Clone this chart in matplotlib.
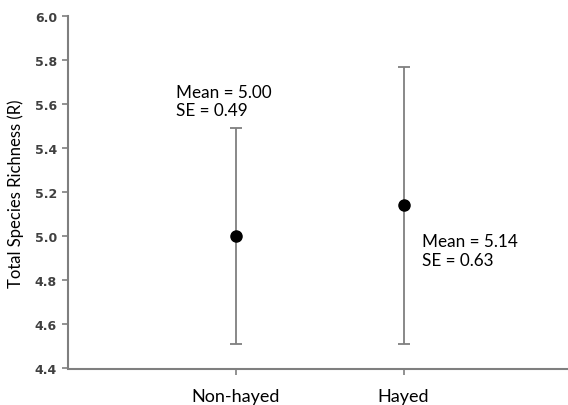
import matplotlib
matplotlib.use("Agg")
import matplotlib.pyplot as plt

groups = ["Non-hayed", "Hayed"]
means = [5.00, 5.14]
se = [0.49, 0.63]
notes = ["Mean = 5.00\nSE = 0.49", "Mean = 5.14\nSE = 0.63"]
yticks = [4.4, 4.6, 4.8, 5.0, 5.2, 5.4, 5.6, 5.8, 6.0]

gray = "#7f7f7f"
tick_col = "#404040"

fig = plt.figure(figsize=(5.68, 4.06), dpi=100)
ax = fig.add_axes([68 / 568, 1 - 369.5 / 406, 1 - 68 / 568, (369.5 - 17) / 406])

x = [1, 2]
ax.errorbar(x, means, yerr=se, fmt="o", color="black", ms=8,
            ecolor=gray, elinewidth=1.3, capsize=4.2, capthick=1.3, zorder=3)

# annotations
ax.text(0.644, 5.615, notes[0], fontsize=12.3, family="Lato", va="center",
        ha="left", linespacing=1.18)
ax.text(2.11, 4.935, notes[1], fontsize=12.3, family="Lato", va="center",
        ha="left", linespacing=1.18)

ax.set_xlim(0, 2.98)
ax.set_ylim(4.4, 6.0)
ax.set_yticks(yticks)
ax.set_yticklabels([f"{v:.1f}" for v in yticks], fontsize=9,
                   family="DejaVu Sans", fontweight="bold", color=tick_col)
ax.set_xticks(x)
ax.set_xticklabels(groups, fontsize=13, family="Lato")
ax.tick_params(axis="y", length=4, width=1.2, color=gray, pad=4)
ax.tick_params(axis="x", length=4, width=1.2, color=gray, pad=10)

for s in ["top", "right"]:
    ax.spines[s].set_visible(False)
for s in ["left", "bottom"]:
    ax.spines[s].set_color(gray)
    ax.spines[s].set_linewidth(1.5)

ax.set_ylabel("Total Species Richness (R)", fontsize=12, family="Lato", labelpad=8)

fig.savefig("out.png", dpi=100)
